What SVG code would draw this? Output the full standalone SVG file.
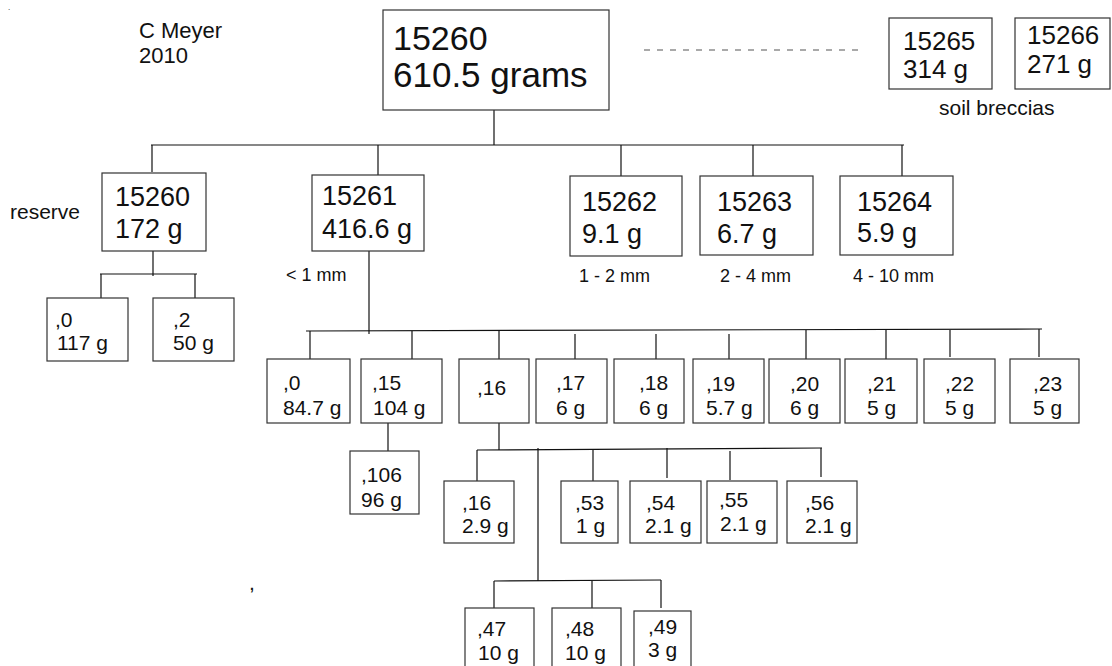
<svg xmlns="http://www.w3.org/2000/svg" width="1112" height="666" viewBox="0 0 1112 666">
<style>
rect{fill:#fff;stroke:#333;stroke-width:1.2}
text{font-family:"Liberation Sans",Arial,sans-serif;fill:#111}
.xl{font-size:34px}
.l{font-size:27px}
.m{font-size:21px}
.s{font-size:18px}
.c line{stroke:#111;stroke-width:1.2}
</style>
<rect x="0" y="0" width="1112" height="666" style="stroke:none;fill:#fff"/>
<text x="8" y="10" style="font-size:8px">.</text>
<text x="139" y="38" style="font-size:22px">C Meyer</text>
<text x="139" y="63" style="font-size:22px">2010</text>
<text x="10" y="219" style="font-size:21px">reserve</text>
<text class="s" x="286" y="281">&lt; 1 mm</text>
<text class="s" x="579" y="282">1 - 2 mm</text>
<text class="s" x="720" y="282">2 - 4 mm</text>
<text class="s" x="853" y="282">4 - 10 mm</text>
<text x="939" y="115" style="font-size:21px">soil breccias</text>
<text class="m" x="249" y="590">,</text>
<g class="c" id="connectors">
<line x1="644" y1="50" x2="860" y2="50" style="stroke:#555;stroke-dasharray:6 7"/>
<line x1="494" y1="110" x2="494" y2="145"/>
<line x1="151" y1="145" x2="904" y2="145"/>
<line x1="152" y1="145" x2="152" y2="172"/>
<line x1="378" y1="145" x2="378" y2="175"/>
<line x1="621" y1="145" x2="621" y2="176"/>
<line x1="753" y1="145" x2="753" y2="176"/>
<line x1="902" y1="145" x2="902" y2="176"/>
<line x1="153" y1="251" x2="153" y2="276"/>
<line x1="100" y1="274" x2="197" y2="274"/>
<line x1="101" y1="274" x2="101" y2="298"/>
<line x1="195" y1="274" x2="195" y2="298"/>
<line x1="369" y1="251" x2="369" y2="334"/>
<line x1="306" y1="331" x2="1042" y2="329"/>
<line x1="310" y1="331" x2="310" y2="359"/>
<line x1="412" y1="331" x2="412" y2="359"/>
<line x1="499" y1="331" x2="499" y2="359"/>
<line x1="575" y1="334" x2="575" y2="359"/>
<line x1="656" y1="334" x2="656" y2="360"/>
<line x1="729" y1="334" x2="729" y2="361"/>
<line x1="806" y1="330" x2="806" y2="359"/>
<line x1="886" y1="330" x2="886" y2="359"/>
<line x1="950" y1="330" x2="950" y2="357"/>
<line x1="1039" y1="329" x2="1039" y2="357"/>
<line x1="388" y1="423" x2="388" y2="451"/>
<line x1="499" y1="423" x2="499" y2="450"/>
<line x1="477" y1="450" x2="822" y2="448"/>
<line x1="477" y1="450" x2="477" y2="481"/>
<line x1="538" y1="448" x2="538" y2="581"/>
<line x1="593" y1="450" x2="593" y2="481"/>
<line x1="667" y1="448" x2="667" y2="478"/>
<line x1="730" y1="451" x2="730" y2="480"/>
<line x1="821" y1="448" x2="821" y2="477"/>
<line x1="494" y1="581" x2="661" y2="580"/>
<line x1="494" y1="581" x2="494" y2="608"/>
<line x1="592" y1="581" x2="592" y2="608"/>
<line x1="661" y1="580" x2="661" y2="608"/>
</g>
<g id="n15260top"><rect x="383" y="10" width="226" height="100"/><text class="xl" x="393" y="50">15260</text><text class="xl" x="393" y="87" style="font-size:35px">610.5 grams</text></g>
<g id="n15265"><rect x="889" y="18" width="103" height="71"/><text x="903" y="50" style="font-size:26px">15265</text><text x="903" y="78" style="font-size:26px">314 g</text></g>
<g id="n15266"><rect x="1015" y="18" width="95" height="71"/><text x="1027" y="44" style="font-size:26px">15266</text><text x="1027" y="73" style="font-size:26px">271 g</text></g>
<g id="n15260"><rect x="102" y="173" width="104" height="78"/><text class="l" x="115" y="206">15260</text><text class="l" x="115" y="238">172 g</text></g>
<g id="n15261"><rect x="312" y="175" width="112" height="76"/><text class="l" x="322" y="205">15261</text><text class="l" x="322" y="238">416.6 g</text></g>
<g id="n15262"><rect x="570" y="176" width="112" height="80"/><text class="l" x="582" y="211">15262</text><text class="l" x="582" y="243">9.1 g</text></g>
<g id="n15263"><rect x="700" y="176" width="113" height="79"/><text class="l" x="717" y="211">15263</text><text class="l" x="717" y="243">6.7 g</text></g>
<g id="n15264"><rect x="840" y="176" width="113" height="79"/><text class="l" x="857" y="211">15264</text><text class="l" x="857" y="242">5.9 g</text></g>
<g id="r0"><rect x="47" y="298" width="81" height="63"/><text class="m" x="55" y="327">,0</text><text class="m" x="57" y="350">117 g</text></g>
<g id="r2"><rect x="153" y="298" width="81" height="63"/><text class="m" x="173" y="327">,2</text><text class="m" x="173" y="350">50 g</text></g>
<g id="c0"><rect x="267" y="359" width="83" height="64"/><text class="m" x="283" y="390">,0</text><text class="m" x="283" y="415">84.7 g</text></g>
<g id="c15"><rect x="361" y="359" width="81" height="64"/><text class="m" x="372" y="390">,15</text><text class="m" x="373" y="415">104 g</text></g>
<g id="c16"><rect x="459" y="359" width="70" height="64"/><text class="m" x="477" y="395">,16</text></g>
<g id="c17"><rect x="536" y="359" width="71" height="64"/><text class="m" x="556" y="390">,17</text><text class="m" x="556" y="415">6 g</text></g>
<g id="c18"><rect x="614" y="359" width="70" height="64"/><text class="m" x="639" y="390">,18</text><text class="m" x="639" y="415">6 g</text></g>
<g id="c19"><rect x="693" y="359" width="71" height="64"/><text class="m" x="706" y="391">,19</text><text class="m" x="706" y="415">5.7 g</text></g>
<g id="c20"><rect x="769" y="359" width="71" height="64"/><text class="m" x="790" y="391">,20</text><text class="m" x="790" y="415">6 g</text></g>
<g id="c21"><rect x="845" y="359" width="72" height="64"/><text class="m" x="867" y="391">,21</text><text class="m" x="867" y="415">5 g</text></g>
<g id="c22"><rect x="924" y="359" width="71" height="64"/><text class="m" x="945" y="391">,22</text><text class="m" x="945" y="415">5 g</text></g>
<g id="c23"><rect x="1010" y="359" width="69" height="64"/><text class="m" x="1033" y="391">,23</text><text class="m" x="1033" y="415">5 g</text></g>
<g id="c106"><rect x="350" y="451" width="69" height="63"/><text class="m" x="361" y="482">,106</text><text class="m" x="361" y="507">96 g</text></g>
<g id="g16"><rect x="444" y="481" width="70" height="62"/><text class="m" x="462" y="510">,16</text><text class="m" x="462" y="533">2.9 g</text></g>
<g id="g53"><rect x="561" y="481" width="57" height="62"/><text class="m" x="575" y="510">,53</text><text class="m" x="576" y="533">1 g</text></g>
<g id="g54"><rect x="630" y="481" width="71" height="62"/><text class="m" x="646" y="510">,54</text><text class="m" x="645" y="533">2.1 g</text></g>
<g id="g55"><rect x="707" y="481" width="70" height="62"/><text class="m" x="719" y="507">,55</text><text class="m" x="720" y="531">2.1 g</text></g>
<g id="g56"><rect x="787" y="481" width="70" height="62"/><text class="m" x="805" y="510">,56</text><text class="m" x="805" y="533">2.1 g</text></g>
<g id="g47"><rect x="465" y="608" width="69" height="70"/><text class="m" x="477" y="636">,47</text><text class="m" x="478" y="660">10 g</text></g>
<g id="g48"><rect x="552" y="608" width="69" height="70"/><text class="m" x="565" y="636">,48</text><text class="m" x="565" y="660">10 g</text></g>
<g id="g49"><rect x="634" y="611" width="57" height="67"/><text class="m" x="648" y="634">,49</text><text class="m" x="648" y="657">3 g</text></g>
</svg>
